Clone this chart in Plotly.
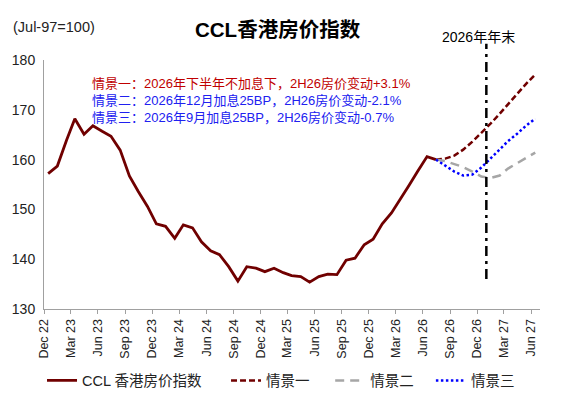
import pandas as pd
import plotly.graph_objects as go

# ---- data ----
main_dates = pd.date_range("2022-12-01", "2026-07-01", freq="MS") + pd.Timedelta(days=14)
main_values = [157.2, 158.7, 163.9, 168.2, 165.1, 166.8, 165.7, 164.7, 161.9, 156.7,
               153.6, 150.6, 147.1, 146.6, 144.2, 146.9, 146.3, 143.5, 141.7, 140.9,
               138.5, 135.6, 138.5, 138.2, 137.5, 138.2, 137.3, 136.7, 136.5, 135.4,
               136.5, 137.0, 136.9, 139.8, 140.2, 142.9, 144.0, 147.1, 149.3, 151.8,
               154.8, 157.7, 160.6, 160.0]

scen_dates = pd.date_range("2026-07-01", "2027-06-01", freq="MS") + pd.Timedelta(days=14)
scen1_values = [160.0, 160.2, 160.8, 162.0, 163.6, 165.3, 167.2, 169.2, 171.2, 173.2, 175.2, 177.1]
scen2_values = [160.0, 159.7, 159.1, 158.5, 157.6, 156.6, 156.3, 156.8, 158.2, 159.3, 160.4, 161.4]
scen3_values = [160.0, 158.8, 157.6, 156.8, 157.0, 158.4, 160.3, 162.0, 163.7, 165.2, 166.8, 168.2]

series_names = ["CCL 香港房价指数", "情景一", "情景二", "情景三"]
notes = ["情景一：2026年下半年不加息下，2H26房价变动+3.1%",
         "情景二：2026年12月加息25BP，2H26房价变动-2.1%",
         "情景三：2026年9月加息25BP，2H26房价变动-0.7%"]
title_text = "CCL香港房价指数"
unit_text = "(Jul-97=100)"
marker_text = "2026年年末"
marker_date = "2027-01-01"

FONT = "Liberation Sans, Arial, Noto Sans CJK SC, sans-serif"
MAROON = "#700000"

fig = go.Figure()
fig.add_trace(go.Scatter(x=main_dates, y=main_values, mode="lines", name=series_names[0],
                         line=dict(color=MAROON, width=2.8), legend="legend"))
fig.add_trace(go.Scatter(x=scen_dates, y=scen1_values, mode="lines", name=series_names[1],
                         line=dict(color=MAROON, width=2.5, dash="6px,3px"), legend="legend2"))
fig.add_trace(go.Scatter(x=scen_dates, y=scen2_values, mode="lines", name=series_names[2],
                         line=dict(color="#A6A6A6", width=2.5, dash="9px,6px"), legend="legend3"))
fig.add_trace(go.Scatter(x=scen_dates, y=scen3_values, mode="lines", name=series_names[3],
                         line=dict(color="#0000FF", width=2.5, dash="2.5px,2.5px"), legend="legend4"))

fig.add_shape(type="line", xref="x", yref="paper", x0=marker_date, x1=marker_date,
              y0=0.12, y1=1.065, line=dict(color="black", width=2.5, dash="10px,5px,3px,5px"))

note_colors = ["#C00000", "#2020F0", "#2020F0"]
note_y = [0.905, 0.838, 0.770]
for t, c, yy in zip(notes, note_colors, note_y):
    fig.add_annotation(text=t, xref="paper", yref="paper", x=0.093, y=yy,
                       xanchor="left", yanchor="middle", showarrow=False,
                       font=dict(family=FONT, size=13, color=c))

fig.add_annotation(text="<b>" + title_text + "</b>", xref="paper", yref="paper",
                   x=0.471, y=1.121, xanchor="center", yanchor="middle", showarrow=False,
                   font=dict(family=FONT, size=20.5, color="black"))
fig.add_annotation(text=unit_text, xref="paper", yref="paper", x=-0.066, y=1.134,
                   xanchor="left", yanchor="middle", showarrow=False,
                   font=dict(family=FONT, size=14.5, color="#222222"))
fig.add_annotation(text=marker_text, xref="x", yref="paper", x=marker_date, y=1.092,
                   xanchor="center", yanchor="middle", xshift=-8, showarrow=False,
                   font=dict(family=FONT, size=14, color="black"))

legend_common = dict(orientation="h", xanchor="left", y=-0.223, yanchor="top",
                     font=dict(family=FONT, size=14.5, color="#222222"),
                     bgcolor="rgba(0,0,0,0)", itemwidth=30)
fig.update_layout(
    width=562, height=407,
    margin=dict(l=44, r=22, t=60, b=98, autoexpand=False),
    paper_bgcolor="white", plot_bgcolor="white",
    font=dict(family=FONT, size=12, color="#222222"),
    showlegend=True,
    legend=dict(x=-0.004, **legend_common),
    legend2=dict(x=0.367, **legend_common),
    legend3=dict(x=0.577, **legend_common),
    legend4=dict(x=0.78, **legend_common),
)
fig.update_xaxes(type="date", range=["2022-12-01", "2027-07-01"],
                 tickvals=pd.date_range("2022-12-01", "2027-06-01", freq="3MS"),
                 tickformat="%b %y", tickangle=-90, automargin=False,
                 showline=True, linecolor="#A0A0A0", linewidth=1,
                 ticks="outside", ticklen=4, tickcolor="#A0A0A0",
                 showgrid=False, zeroline=False,
                 tickfont=dict(family=FONT, size=12.5, color="#222222"))
fig.update_yaxes(range=[130, 180], dtick=10, showline=True, linecolor="#A0A0A0",
                 linewidth=1, ticks="", showgrid=False, zeroline=False,
                 ticklabelstandoff=5, automargin=False,
                 tickfont=dict(family=FONT, size=14, color="#222222"))

fig.write_html("out.html", config={"displayModeBar": False},
               post_script="document.body.style.margin='0px';")
